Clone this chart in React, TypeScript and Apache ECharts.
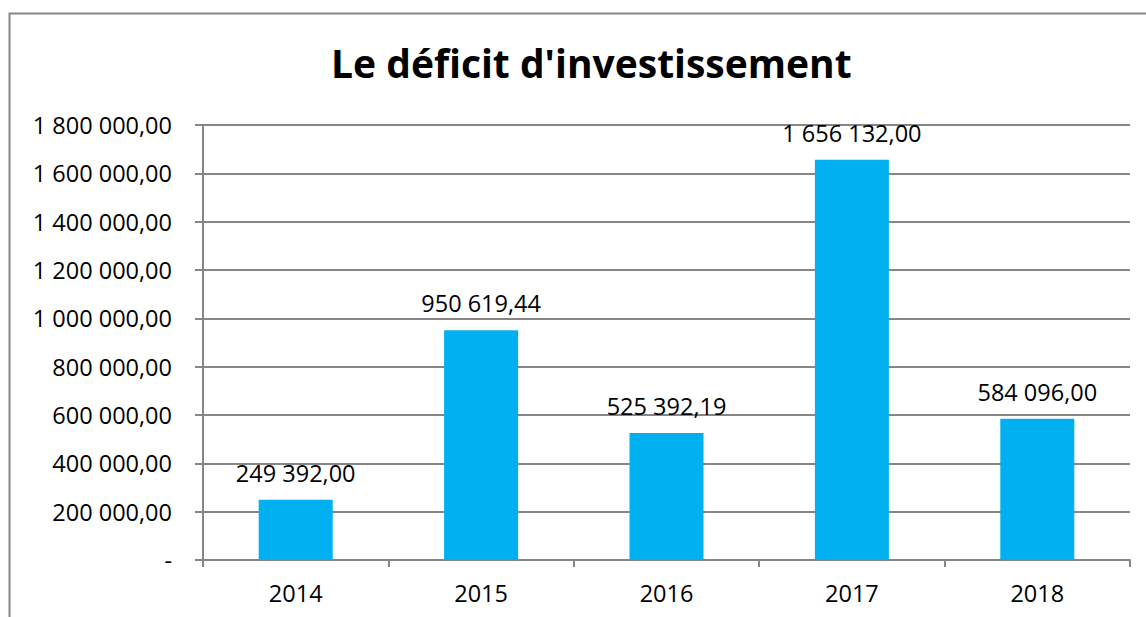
import React, { useEffect, useRef } from "react";
import * as echarts from "echarts";

const categories = ["2014", "2015", "2016", "2017", "2018"];
const values = [249392.0, 950619.44, 525392.19, 1656132.0, 584096.0];
const titleText = "Le déficit d'investissement";

function fmt(v: number): string {
  if (v === 0) return "-";
  const fixed = Math.abs(v).toFixed(2);
  const [intPart, dec] = fixed.split(".");
  const grouped = intPart.replace(/\B(?=(\d{3})+(?!\d))/g, " ");
  return (v < 0 ? "-" : "") + grouped + "," + dec;
}

export default function App() {
  const ref = useRef<HTMLDivElement>(null);
  useEffect(() => {
    if (!ref.current) return;
    const chart = echarts.init(ref.current, null, { renderer: "svg" });
    const font = "Open Sans";
    const fs = 23.5;
    chart.setOption({
      animation: false,
      backgroundColor: "#ffffff",
      title: {
        text: titleText,
        left: 326,
        top: 38,
        textStyle: { fontFamily: font, fontWeight: "bold", fontSize: 39, color: "#000" },
      },
      graphic: [
        {
          type: "rect",
          shape: { x: 9.5, y: 13.5, width: 1200, height: 700 },
          style: { fill: "none", stroke: "#868686", lineWidth: 2 },
          silent: true,
        },
      ],
      grid: { left: 203, right: 16, top: 125, bottom: 57 },
      xAxis: {
        type: "category",
        data: categories,
        axisLine: { show: true, lineStyle: { color: "#868686", width: 2 } },
        axisTick: { show: true, length: 7, lineStyle: { color: "#868686", width: 2 } },
        axisLabel: { fontFamily: font, fontSize: fs, color: "#000", margin: 21 },
      },
      yAxis: {
        type: "value",
        min: 0,
        max: 1800000,
        interval: 200000,
        axisLine: { show: true, lineStyle: { color: "#868686", width: 2 } },
        axisTick: { show: true, length: 8, lineStyle: { color: "#868686", width: 2 } },
        splitLine: { show: true, lineStyle: { color: "#868686", width: 2 } },
        axisLabel: {
          fontFamily: font,
          fontSize: fs,
          color: "#000",
          margin: 31,
          formatter: (v: number) => fmt(v),
        },
      },
      series: [
        {
          type: "bar",
          data: values,
          barWidth: 74,
          itemStyle: { color: "#00B0F0" },
          label: {
            show: true,
            position: "top",
            distance: 15,
            fontFamily: font,
            fontSize: fs,
            color: "#000",
            formatter: (p: any) => fmt(p.value),
          },
        },
      ],
    });
    return () => chart.dispose();
  }, []);
  return (
    <div
      ref={ref}
      style={{ position: "absolute", left: 0, top: 0, width: 1146, height: 617 }}
    />
  );
}
